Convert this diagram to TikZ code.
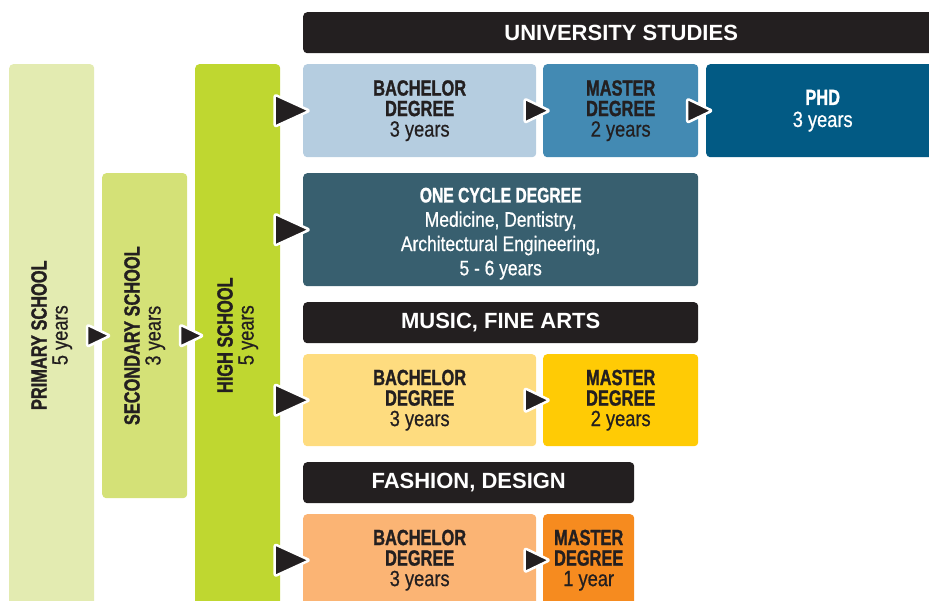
\documentclass[tikz,border=0pt]{standalone}
\usepackage{fontspec}
\setmainfont{Liberation Sans}
\newfontfamily\cbfam[FakeStretch=0.745,FakeBold=1.2]{Liberation Sans}
\newfontfamily\crfam[FakeStretch=0.83,FakeBold=0.6]{Liberation Sans}
\newcommand\bt[1]{{\cbfam\bfseries #1}}
\newcommand\rt[1]{{\crfam #1}}
\usetikzlibrary{calc}
\definecolor{cPrim}{HTML}{E3EBB1}
\definecolor{cSec}{HTML}{D4E177}
\definecolor{cHigh}{HTML}{BFD730}
\definecolor{cBaB}{HTML}{B5CDE0}
\definecolor{cMaB}{HTML}{438AB3}
\definecolor{cPhd}{HTML}{025A84}
\definecolor{cOne}{HTML}{385F6F}
\definecolor{cBlack}{HTML}{231F20}
\definecolor{cBaY}{HTML}{FEDC7F}
\definecolor{cMaY}{HTML}{FFCB05}
\definecolor{cBaO}{HTML}{FBB474}
\definecolor{cMaO}{HTML}{F68B1F}
\definecolor{cText}{HTML}{231F20}
\tikzset{
  box/.style={rounded corners=4pt, anchor=north west, inner sep=0pt, align=center,
    text=cText, font=\fontsize{22}{20.5}\selectfont},
  bar/.style={box, fill=cBlack, text=white, font=\fontsize{22}{22}\selectfont\bfseries},
  txt/.style={align=center, inner sep=0pt},
  vlbl/.style={rotate=90, align=center, inner sep=0pt, text=cText,
    font=\fontsize{22}{21}\selectfont},
  tri/.style={fill=cBlack, draw=white, line width=2.5pt, rounded corners=2pt, line join=round}
}
% #1 = x shift, #2 = centre coordinate name, #3 = half width, #4 = half height
\newcommand\tri[4][0]{\filldraw[tri] ([shift={(#1-#3,-#4)}]#2) -- ([shift={(#1+#3+1,0)}]#2) -- ([shift={(#1-#3,#4)}]#2) -- cycle;}
\begin{document}
\begin{tikzpicture}[x=1pt,y=-1pt]
\useasboundingbox (0,0) rectangle (929,601);
\clip (0,0) rectangle (929,601);

% school columns
\node[box, fill=cPrim, minimum width=85pt, minimum height=542pt] (prim) at (9,64) {};
\node[box, fill=cSec, minimum width=85pt, minimum height=325pt] (sec) at (102,173) {};
\node[box, fill=cHigh, minimum width=85pt, minimum height=542pt] (high) at (195,64) {};
\node[vlbl] (primt) at (prim.center) {\bt{PRIMARY SCHOOL}\\\rt{5 years}};
\node[vlbl] (sect) at (sec.center) {\bt{SECONDARY SCHOOL}\\\rt{3 years}};
\node[vlbl] (hight) at (high.center) {\bt{HIGH SCHOOL}\\\rt{5 years}};

% header bars
\node[bar, minimum width=636pt, minimum height=41pt] (uni) at (303,12) {UNIVERSITY STUDIES};
\node[bar, minimum width=395pt, minimum height=41pt] (mus) at (303,302) {MUSIC, FINE ARTS};
\node[bar, minimum width=331pt, minimum height=41pt] (fas) at (303,462) {FASHION, DESIGN};

% university
\node[box, fill=cBaB, minimum width=233pt, minimum height=93pt] (ba1) at (303,64)
  {\bt{BACHELOR}\\\bt{DEGREE}\\\rt{3 years}};
\node[box, fill=cMaB, minimum width=155pt, minimum height=93pt] (ma1) at (543,64)
  {\bt{MASTER}\\\bt{DEGREE}\\\rt{2 years}};
\node[box, fill=cPhd, text=white, minimum width=233pt, minimum height=93pt,
  font=\fontsize{22}{22}\selectfont] (phd) at (706,64)
  {\bt{PHD}\\\rt{3 years}};
\node[box, fill=cOne, minimum width=395pt, minimum height=113pt] (oc) at (303,173) {};
\node[txt, text=white, font=\fontsize{21}{24.3}\selectfont, yshift=-4pt] (oct) at (oc.center)
  {\bt{ONE CYCLE DEGREE}\\\rt{Medicine, Dentistry,}\\\rt{Architectural Engineering,}\\\rt{5 - 6 years}};

% music
\node[box, fill=cBaY, minimum width=233pt, minimum height=92pt] (ba2) at (303,354)
  {\bt{BACHELOR}\\\bt{DEGREE}\\\rt{3 years}};
\node[box, fill=cMaY, minimum width=155pt, minimum height=92pt] (ma2) at (543,354)
  {\bt{MASTER}\\\bt{DEGREE}\\\rt{2 years}};

% fashion
\node[box, fill=cBaO, minimum width=233pt, minimum height=92pt] (ba3) at (303,514)
  {\bt{BACHELOR}\\\bt{DEGREE}\\\rt{3 years}};
\node[box, fill=cMaO, minimum width=91pt, minimum height=92pt] (ma3) at (543,514)
  {\bt{MASTER}\\\bt{DEGREE}\\\rt{1 year}};

% arrow positions
\coordinate (s1) at ($(prim.east |- sec.west)!0.5!(sec.west)$);
\coordinate (s2) at ($(sec.east)!0.5!(high.west |- sec.east)$);
\coordinate (a1) at ($(high.east |- ba1.west)!0.5!(ba1.west)$);
\coordinate (a2) at ($(high.east |- oc.west)!0.5!(oc.west)$);
\coordinate (a3) at ($(high.east |- ba2.west)!0.5!(ba2.west)$);
\coordinate (a4) at ($(high.east |- ba3.west)!0.5!(ba3.west)$);
\coordinate (m1) at ($(ba1.east)!0.5!(ma1.west)$);
\coordinate (m2) at ($(ma1.east)!0.5!(phd.west)$);
\coordinate (m3) at ($(ba2.east)!0.5!(ma2.west)$);
\coordinate (m4) at ($(ba3.east)!0.5!(ma3.west)$);

\tri{s1}{11}{11}
\tri{s2}{11}{11}
\tri{a1}{17}{16}
\tri{a2}{17}{16}
\tri{a3}{17}{16}
\tri{a4}{17}{16}
\tri[-3]{m1}{12}{12}
\tri[-3]{m2}{12}{12}
\tri[-3]{m3}{12}{12}
\tri[-3]{m4}{12}{12}
\end{tikzpicture}
\end{document}
